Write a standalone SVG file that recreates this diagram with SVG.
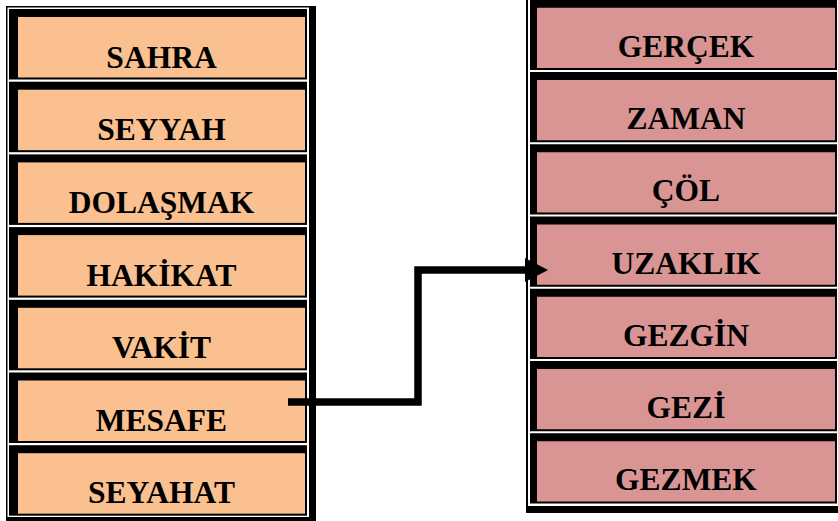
<svg xmlns="http://www.w3.org/2000/svg" width="838" height="521" viewBox="0 0 838 521">
<style>
.frame{fill:#000}
.gap{fill:#fff}
.lb{fill:#000}
.lf{fill:#FAC090}
.rf{fill:#D99594}
.t{font-family:"Liberation Serif","Times New Roman",serif;font-weight:bold;font-size:31.5px;fill:#000;text-anchor:middle}
.conn{fill:none;stroke:#000;stroke-width:7.5;stroke-linejoin:miter;stroke-linecap:butt}
</style>
<defs>
<marker id="ah" viewBox="0 0 23 24" refX="0" refY="12" markerWidth="23" markerHeight="24" markerUnits="userSpaceOnUse" orient="auto">
<path d="M0,0 L23,12 L0,24 Z" fill="#000"/>
</marker>
</defs>
<rect width="838" height="521" fill="#fff"/>
<g id="left-table">
<rect class="frame" x="6" y="6" width="310" height="520"/>
<rect class="gap" x="7.5" y="7.5" width="301.5" height="509.5"/>
</g>
<g id="right-table">
<rect class="frame" x="526" y="-20" width="330" height="533"/>
<rect class="gap" x="528" y="-20" width="330" height="526"/>
</g>
<g id="n-sahra"><rect class="lb" x="9" y="9" width="298" height="70.5"/><rect class="lf" x="18" y="17" width="287" height="60.5"/><text class="t" x="161.5" y="67.5">SAHRA</text></g>
<g id="n-seyyah"><rect class="lb" x="9" y="81.7" width="298" height="70.5"/><rect class="lf" x="18" y="89.7" width="287" height="60.5"/><text class="t" x="161.5" y="140.2">SEYYAH</text></g>
<g id="n-dolasmak"><rect class="lb" x="9" y="154.4" width="298" height="70.5"/><rect class="lf" x="18" y="162.4" width="287" height="60.5"/><text class="t" x="161.5" y="212.9">DOLAŞMAK</text></g>
<g id="n-hakikat"><rect class="lb" x="9" y="227.1" width="298" height="70.5"/><rect class="lf" x="18" y="235.1" width="287" height="60.5"/><text class="t" x="161.5" y="285.6">HAKİKAT</text></g>
<g id="n-vakit"><rect class="lb" x="9" y="299.8" width="298" height="70.5"/><rect class="lf" x="18" y="307.8" width="287" height="60.5"/><text class="t" x="161.5" y="358.3">VAKİT</text></g>
<g id="n-mesafe"><rect class="lb" x="9" y="372.5" width="298" height="70.5"/><rect class="lf" x="18" y="380.5" width="287" height="60.5"/><text class="t" x="161.5" y="430.5">MESAFE</text></g>
<g id="n-seyahat"><rect class="lb" x="9" y="445.2" width="298" height="70.5"/><rect class="lf" x="18" y="453.2" width="287" height="60.5"/><text class="t" x="161.5" y="503.2">SEYAHAT</text></g>
<g id="n-gercek"><rect class="lb" x="530" y="-0.25" width="307" height="70.25"/><rect class="rf" x="537" y="7.75" width="298" height="60.25"/><text class="t" x="686" y="56.75">GERÇEK</text></g>
<g id="n-zaman"><rect class="lb" x="530" y="72" width="307" height="70.25"/><rect class="rf" x="537" y="80" width="298" height="60.25"/><text class="t" x="686" y="129">ZAMAN</text></g>
<g id="n-col"><rect class="lb" x="530" y="144.25" width="307" height="70.25"/><rect class="rf" x="537" y="152.25" width="298" height="60.25"/><text class="t" x="686" y="201.25">ÇÖL</text></g>
<g id="n-uzaklik"><rect class="lb" x="530" y="216.5" width="307" height="70.25"/><rect class="rf" x="537" y="224.5" width="298" height="60.25"/><text class="t" x="686" y="273.5">UZAKLIK</text></g>
<g id="n-gezgin"><rect class="lb" x="530" y="288.75" width="307" height="70.25"/><rect class="rf" x="537" y="296.75" width="298" height="60.25"/><text class="t" x="686" y="345.75">GEZGİN</text></g>
<g id="n-gezi"><rect class="lb" x="530" y="361" width="307" height="70.25"/><rect class="rf" x="537" y="369" width="298" height="60.25"/><text class="t" x="686" y="418">GEZİ</text></g>
<g id="n-gezmek"><rect class="lb" x="530" y="433.25" width="307" height="70.25"/><rect class="rf" x="537" y="441.25" width="298" height="60.25"/><text class="t" x="686" y="490.25">GEZMEK</text></g>
<g id="connectors">
<path class="conn" d="M288,402 H418 V270 H525" marker-end="url(#ah)"/>
</g>
</svg>
